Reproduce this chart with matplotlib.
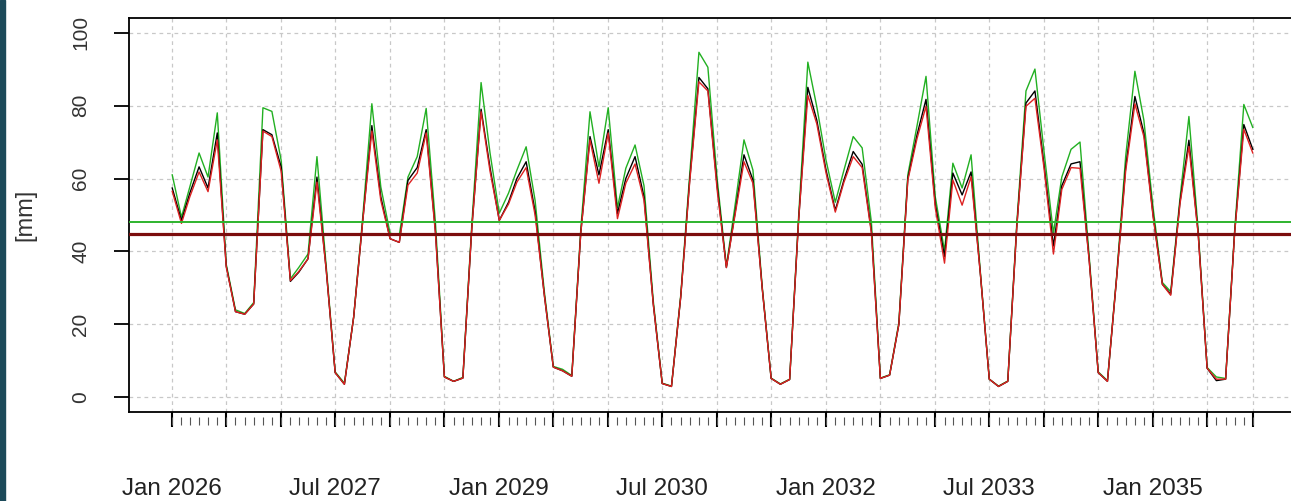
import pandas as pd
import matplotlib
matplotlib.use("Agg")
import matplotlib.pyplot as plt
import matplotlib.dates as mdates
from matplotlib.patches import Rectangle

plt.rcParams['font.family'] = ['Liberation Sans', 'DejaVu Sans']

# monthly series, Jan 2026 .. Dec 2035
months = pd.date_range("2026-01-01", periods=120, freq="MS")

green_vals = [61, 49.4, 57.7, 67, 60.4, 78, 36.5, 24, 23, 26, 79.4, 78.4,
              65, 32.5, 35.6, 39.3, 66, 36, 7, 3.9, 22, 49, 80.5, 57.7,
              45, 44.5, 60.4, 66, 79.2, 48, 5.8, 4.4, 5.5, 47.5, 86.3, 67,
              50.5, 56, 62.3, 68.7, 54, 29, 8.5, 7.7, 6, 46, 78.3, 63.2,
              79.4, 52, 62.8, 69.2, 58, 26.5, 3.9, 3.1, 28, 61, 94.6, 90.5,
              60, 36, 52, 70.6, 62.3, 30.5, 5.3, 3.7, 5, 49.5, 91.9, 79.7,
              65, 53.5, 62.3, 71.5, 68.4, 48, 5.3, 6.2, 20.5, 61, 74.5, 88,
              55, 40.2, 64.2, 57.4, 66.5, 34.5, 5, 3.1, 4.5, 47.5, 84, 90,
              67, 45, 60.4, 68, 70, 38.5, 7, 4.6, 33.5, 66, 89.4, 76,
              52, 31.5, 29, 54.5, 77, 46, 8.2, 5.6, 5.2, 45.5, 80.3, 74]

black_vals = [57.4, 48.5, 56, 63.2, 57.4, 72.5, 36, 23.5, 22.8, 25.6, 73.4, 72,
              63.2, 31.8, 34.3, 38, 60.4, 35, 6.8, 3.6, 22, 48, 74.5, 55,
              43.5, 42.5, 59.5, 63, 73.4, 45.5, 5.6, 4.4, 5.3, 46.5, 79, 63,
              48.5, 53.5, 60, 64.6, 51, 28, 8.3, 7.3, 5.8, 45, 71.5, 61,
              73.4, 50.4, 60, 66, 55, 25.6, 3.8, 3, 27.5, 59.5, 87.7, 84.6,
              58, 35.6, 50, 66.5, 59.6, 30, 5.2, 3.6, 4.9, 48.5, 85, 76,
              62.3, 51.3, 59.6, 67.4, 63.9, 45.5, 5.2, 6.1, 20, 60, 72, 81.7,
              53, 38.6, 61.5, 55.5, 61.8, 34, 5, 3, 4.4, 46.6, 80.7, 84,
              63.4, 41.5, 58, 64, 64.6, 37.5, 6.8, 4.4, 33, 63, 82.5, 72.5,
              50, 31, 28.3, 53.5, 70.5, 45, 8, 4.6, 5, 45, 74.8, 68]

red_vals = [56.5, 47.7, 55, 61.8, 56.4, 70.6, 35.8, 23.5, 22.8, 25.6, 73, 71.5,
            62, 32, 34.5, 38, 59, 35, 6.8, 3.6, 22, 48, 73, 54,
            43.5, 42.5, 58.2, 61.5, 72.5, 45, 5.6, 4.4, 5.3, 46.5, 78.3, 62,
            48.5, 53, 59, 63, 50, 28, 8.3, 7.3, 5.8, 45, 70.6, 58.7,
            72.5, 49, 58.7, 64, 54, 25.6, 3.8, 3, 27.5, 59, 86.5, 84,
            57, 35.6, 49.5, 64.6, 58.7, 30, 5.2, 3.6, 4.9, 48.5, 82.8, 75,
            61.5, 50.8, 59, 66, 63, 45, 5.2, 6.1, 20, 59.5, 71, 79.8,
            52, 36.8, 59.6, 52.7, 60.5, 34, 5, 3, 4.4, 46.5, 79.8, 82,
            62.5, 39.3, 57, 63, 62.8, 37.3, 6.8, 4.4, 33, 62, 80.5, 71.5,
            49.5, 31, 28, 53, 68.8, 44.8, 8, 5, 5, 44.8, 73.5, 67]

green_mean = 48.0
red_mean = 44.9
y_ticks = [0, 20, 40, 60, 80, 100]

fig = plt.figure(figsize=(12.91, 5.01), dpi=100)
fig.add_artist(Rectangle((0, 0), 5 / 1291, 1, transform=fig.transFigure,
                         color='#1c4a5a', zorder=-5))

ax = fig.add_axes([129 / 1291, 89 / 501, 1167 / 1291, 394 / 501])

x = mdates.date2num(months)
span = x[-1] - x[0]
ax.set_xlim(x[0] - 0.04 * span, x[-1] + 0.04 * span)
ax.set_ylim(-4, 104)

ax.plot(x, green_vals, color='#22b022', lw=1.0, zorder=3)
ax.plot(x, black_vals, color='black', lw=1.0, zorder=3)
ax.plot(x, red_vals, color='#dd2222', lw=1.0, zorder=3)
ax.axhline(green_mean, color='#2db32d', lw=1.4, zorder=4)
ax.axhline(red_mean, color='#7b0d0d', lw=2.3, zorder=4)

# x axis: ticks every 6 months plus the last month, labels every 18 months
major = [m for m in months if m.month in (1, 7)] + [months[-1]]
labels = []
for m in major:
    k = (m.year - 2026) * 12 + m.month - 1
    if m.month in (1, 7) and k % 18 == 0:
        labels.append(m.strftime('%b %Y'))
    else:
        labels.append('')
ax.set_xticks(mdates.date2num(major))
ax.set_xticklabels(labels)
ax.set_yticks(y_ticks)

ax.grid(True, color='#c8c8c8', linestyle=(0, (3, 3)), linewidth=0.9)
ax.set_axisbelow(True)

# monthly minor ticks, drawn slightly below the box
ax.vlines(x, -5 / 394, -13 / 394, transform=ax.get_xaxis_transform(),
          colors='#555555', lw=0.8, clip_on=False)

ax.tick_params(axis='x', length=10.8, width=1.5, pad=37, labelsize=17.5,
               labelcolor='#222222')
ax.tick_params(axis='y', length=10.8, width=1.3, pad=17, labelsize=15,
               labelcolor='#333333')
for lab in ax.get_yticklabels():
    lab.set_rotation(90)
    lab.set_va('center')

for s in ax.spines.values():
    s.set_linewidth(1.3)

fig.text(25 / 1291, 1 - 215 / 501, '[mm]', rotation=90, ha='center',
         va='center', fontsize=17, color='#333333')

fig.savefig('out.png', dpi=100)
